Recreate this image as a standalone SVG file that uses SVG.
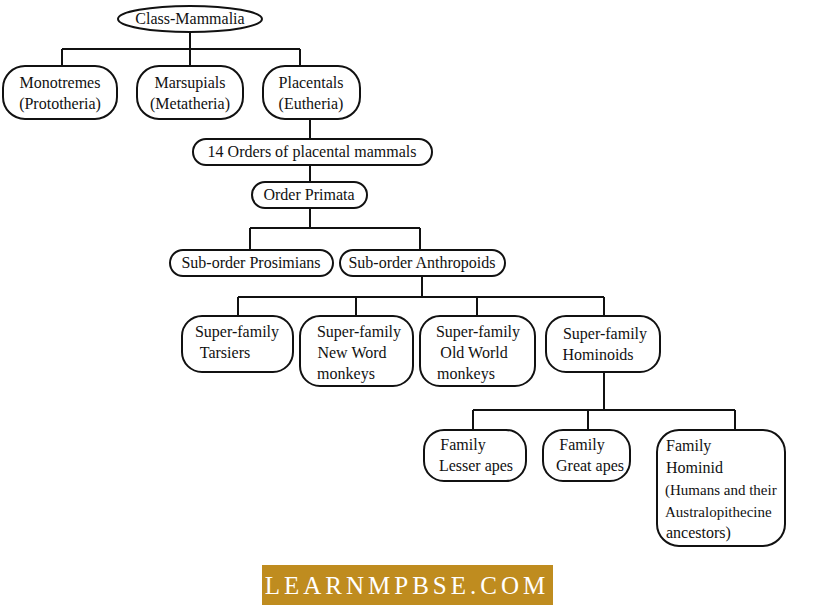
<svg xmlns="http://www.w3.org/2000/svg" width="815" height="609" viewBox="0 0 815 609">
<style>
.n{fill:#fff;stroke:#111;stroke-width:2}
text{font-family:"Liberation Serif",serif;font-size:16px;fill:#111}
.c{text-anchor:middle}
#connectors path{fill:none;stroke:#111;stroke-width:2}
</style>
<rect width="815" height="609" fill="#fff"/>
<g id="connectors">
<path d="M190 32V49M62 49H300M62 49V66M190 49V66M300 49V66"/>
<path d="M310 119V139M310 165V182M310 208V228M250 228H420M250 228V250M420 228V250"/>
<path d="M422 276V297M238 297H604M238 297V316M356 297V316M477 297V316M604 297V316"/>
<path d="M604 372V410M473 410H735M473 410V430M588 410V430M735 410V430"/>
</g>
<g id="mammalia"><ellipse class="n" cx="190" cy="19" rx="72" ry="13"/><text class="c" x="190" y="24">Class-Mammalia</text></g>
<g id="monotremes"><rect class="n" x="3" y="66" width="114" height="53" rx="22"/><text class="c" x="60" y="88">Monotremes</text><text class="c" x="60" y="109">(Prototheria)</text></g>
<g id="marsupials"><rect class="n" x="137" y="66" width="106" height="53" rx="22"/><text class="c" x="190" y="88">Marsupials</text><text class="c" x="190" y="109">(Metatheria)</text></g>
<g id="placentals"><rect class="n" x="263" y="66" width="97" height="53" rx="22"/><text class="c" x="311" y="88">Placentals</text><text class="c" x="311" y="109">(Eutheria)</text></g>
<g id="orders"><rect class="n" x="193" y="139" width="239" height="26" rx="13"/><text class="c" x="312" y="157">14 Orders of placental mammals</text></g>
<g id="primata"><rect class="n" x="252" y="182" width="115" height="26" rx="13"/><text class="c" x="309" y="200">Order Primata</text></g>
<g id="prosimians"><rect class="n" x="170" y="250" width="163" height="26" rx="13"/><text class="c" x="251" y="268">Sub-order Prosimians</text></g>
<g id="anthropoids"><rect class="n" x="340" y="250" width="165" height="26" rx="13"/><text class="c" x="422" y="268">Sub-order Anthropoids</text></g>
<g id="tarsiers"><rect class="n" x="182" y="316" width="111" height="56" rx="20"/><text class="c" x="237" y="337">Super-family</text><text class="c" x="225" y="358">Tarsiers</text></g>
<g id="newworld"><rect class="n" x="300" y="316" width="113" height="70" rx="20"/><text class="c" x="359" y="337">Super-family</text><text class="c" x="352" y="358">New Word</text><text class="c" x="346" y="379">monkeys</text></g>
<g id="oldworld"><rect class="n" x="420" y="316" width="115" height="70" rx="20"/><text class="c" x="478" y="337">Super-family</text><text class="c" x="474" y="358">Old World</text><text class="c" x="466" y="379">monkeys</text></g>
<g id="hominoids"><rect class="n" x="546" y="316" width="114" height="56" rx="20"/><text class="c" x="605" y="339">Super-family</text><text class="c" x="598" y="360">Hominoids</text></g>
<g id="lesser"><rect class="n" x="424" y="430" width="102" height="51" rx="20"/><text class="c" x="463" y="450">Family</text><text class="c" x="476" y="471">Lesser apes</text></g>
<g id="great"><rect class="n" x="543" y="430" width="87" height="51" rx="20"/><text class="c" x="582" y="450">Family</text><text class="c" x="590" y="471">Great apes</text></g>
<g id="hominid"><rect class="n" x="657" y="430" width="128" height="116" rx="22"/><text x="666" y="451">Family</text><text x="666" y="473">Hominid</text><text x="665" y="495" style="font-size:15px">(Humans and their</text><text x="665" y="517" style="font-size:15px">Australopithecine</text><text x="666" y="538">ancestors)</text></g>
<g id="watermark"><rect x="262" y="565" width="291" height="40" fill="#bf8c1f"/><text class="c" x="407" y="594" style="fill:#fff;font-size:25px;letter-spacing:4px">LEARNMPBSE.COM</text></g>
</svg>
